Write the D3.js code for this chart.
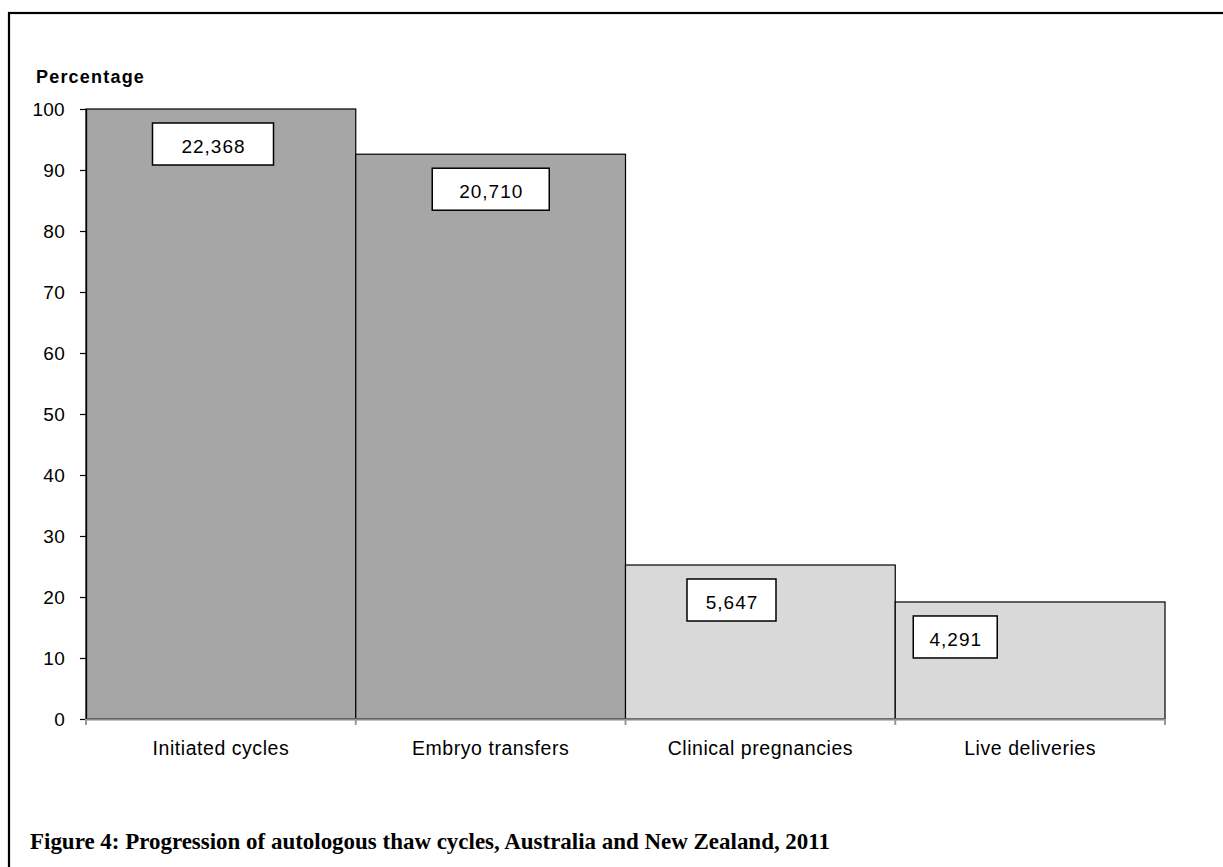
<!DOCTYPE html>
<html>
<head>
<meta charset="utf-8">
<script src="https://cdn.jsdelivr.net/npm/d3@7"></script>
<style>
  html, body { margin: 0; padding: 0; background: #fff; }
  svg { display: block; }
</style>
</head>
<body>
<svg id="chart" width="1223" height="867"></svg>
<script>
// Progression of autologous thaw cycles, 2011
const categories = ["Initiated cycles", "Embryo transfers", "Clinical pregnancies", "Live deliveries"];
const counts = [22368, 20710, 5647, 4291];
const percentages = counts.map(c => c / counts[0] * 100);
const stageGroup = ["treatment", "treatment", "outcome", "outcome"];
const yTicks = [0, 10, 20, 30, 40, 50, 60, 70, 80, 90, 100];

// Placement of the count boxes inside each bar (horizontal centre offset from bar left, box width)
const boxCentre = [127, 135, 106, 60];
const boxWidth = [121, 117, 89, 84];

const svg = d3.select("#chart");
const W = 1223, H = 867;
const sans = "'Liberation Sans', Arial, sans-serif";

// page frame
svg.append("rect")
  .attr("x", 9).attr("y", 13)
  .attr("width", W + 20).attr("height", H + 20)
  .attr("fill", "none").attr("stroke", "#000").attr("stroke-width", 2.2);

const plotLeft = 86, plotRight = 1165, plotTop = 109, plotBottom = 719;

const x = d3.scaleBand().domain(categories).range([plotLeft, plotRight]).padding(0);
const y = d3.scaleLinear().domain([0, 100]).range([plotBottom, plotTop]);

const fills = { treatment: "#a6a6a6", outcome: "#d9d9d9" };

// bars
svg.append("g").selectAll("rect")
  .data(categories)
  .join("rect")
  .attr("x", d => x(d))
  .attr("y", (d, i) => y(percentages[i]))
  .attr("width", x.bandwidth())
  .attr("height", (d, i) => y(0) - y(percentages[i]))
  .attr("fill", (d, i) => fills[stageGroup[i]])
  .attr("stroke", "#000")
  .attr("stroke-width", 1.2);

// y axis
const yAxis = svg.append("g")
  .attr("transform", `translate(${plotLeft},0)`)
  .call(d3.axisLeft(y).tickValues(yTicks).tickSize(6).tickPadding(15).tickSizeOuter(0));
yAxis.select(".domain").attr("stroke", "#000").attr("stroke-width", 1.3);
yAxis.selectAll(".tick line").attr("stroke", "#000").attr("stroke-width", 1.2);
yAxis.selectAll(".tick text")
  .attr("font-family", sans)
  .attr("font-size", 19)
  .attr("letter-spacing", 0.3)
  .attr("fill", "#000");

// x axis
const xAxis = svg.append("g")
  .attr("transform", `translate(0,${plotBottom})`)
  .call(d3.axisBottom(x).tickSize(0).tickPadding(22).tickSizeOuter(0));
xAxis.select(".domain").attr("stroke", "#888").attr("stroke-width", 2);
xAxis.selectAll(".tick text")
  .attr("font-family", sans)
  .attr("font-size", 19.5)
  .attr("letter-spacing", 0.55)
  .attr("fill", "#000");

// boundary ticks on the x axis
const boundaries = categories.map(c => x(c)).concat([x(categories[categories.length - 1]) + x.bandwidth()]);
svg.append("g").selectAll("line")
  .data(boundaries)
  .join("line")
  .attr("x1", d => d).attr("x2", d => d)
  .attr("y1", plotBottom).attr("y2", plotBottom + 6)
  .attr("stroke", "#999").attr("stroke-width", 2);

// count boxes
const boxH = 42;
const boxes = svg.append("g").selectAll("g")
  .data(categories)
  .join("g")
  .attr("transform", (d, i) => `translate(${x(d) + boxCentre[i]},${y(percentages[i]) + 14})`);
boxes.append("rect")
  .attr("x", (d, i) => -boxWidth[i] / 2)
  .attr("y", 0)
  .attr("width", (d, i) => boxWidth[i])
  .attr("height", boxH)
  .attr("fill", "#fff")
  .attr("stroke", "#000")
  .attr("stroke-width", 1.5);
boxes.append("text")
  .attr("text-anchor", "middle")
  .attr("x", 0.5)
  .attr("y", boxH / 2 + 9)
  .attr("font-family", sans)
  .attr("font-size", 19)
  .attr("letter-spacing", 1)
  .text((d, i) => d3.format(",")(counts[i]));

// y-axis title
svg.append("text")
  .attr("x", 36).attr("y", 83)
  .attr("font-family", sans)
  .attr("font-weight", "bold")
  .attr("font-size", 18)
  .attr("letter-spacing", 1.2)
  .text("Percentage");

// figure caption
svg.append("text")
  .attr("x", 30).attr("y", 849)
  .attr("font-family", "'Liberation Serif', 'DejaVu Serif', serif")
  .attr("font-weight", "bold")
  .attr("font-size", 23)
  .attr("textLength", 800)
  .attr("lengthAdjust", "spacingAndGlyphs")
  .text("Figure 4: Progression of autologous thaw cycles, Australia and New Zealand, 2011");
</script>
</body>
</html>
